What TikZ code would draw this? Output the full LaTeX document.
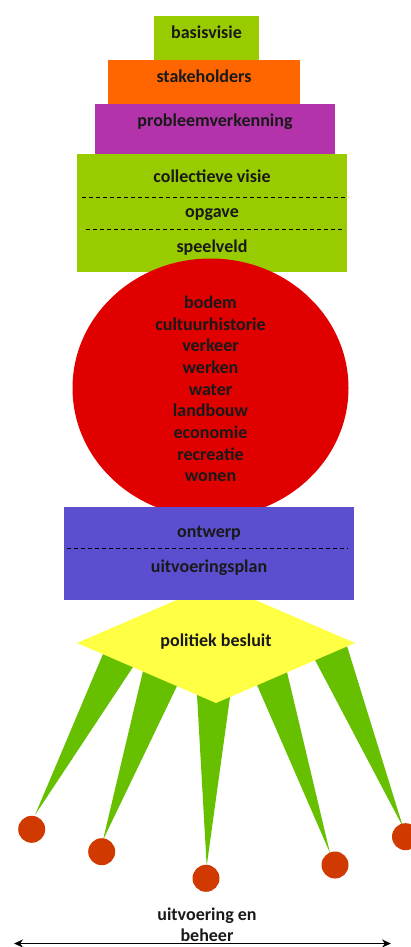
\documentclass[tikz,border=0pt]{standalone}
\usepackage{fontspec}
\setmainfont{Carlito}
\usetikzlibrary{arrows.meta,calc,shapes.geometric}
\definecolor{lgreen}{HTML}{99CC00}
\definecolor{orng}{HTML}{FF6600}
\definecolor{purp}{HTML}{B233AA}
\definecolor{bluev}{HTML}{5B4FCF}
\definecolor{redc}{HTML}{E00000}
\definecolor{yel}{HTML}{FFFF44}
\definecolor{spk}{HTML}{66C000}
\definecolor{dotc}{HTML}{D03A00}
\tikzset{
  lbl/.style={font=\fontsize{18}{21}\selectfont\bfseries, text=black!90, inner sep=0pt, text height=12pt, text depth=0pt},
  boxx/.style={rectangle, inner sep=0pt, draw=none},
  sep/.style={draw=black, line width=0.9pt, dash pattern=on 4pt off 3pt},
  spike/.style={fill=spk, draw=none},
  dot/.style={circle, fill=dotc, draw=none, minimum size=27pt, inner sep=0pt},
}
\begin{document}
\begin{tikzpicture}[x=1pt,y=-1pt]
\useasboundingbox (0,0) rectangle (410,947);
% spikes
\coordinate (p1) at (35,815);  \coordinate (p1a) at (103,654); \coordinate (p1b) at (133,667);
\coordinate (p2) at (103,840); \coordinate (p2a) at (143,671); \coordinate (p2b) at (177,686);
\coordinate (p3) at (206.7,866); \coordinate (p3a) at (197,695); \coordinate (p3b) at (230,697);
\coordinate (p4) at (330,853); \coordinate (p4a) at (257,685); \coordinate (p4b) at (287,672);
\coordinate (p5) at (403,827); \coordinate (p5a) at (315,660); \coordinate (p5b) at (347,646);
\foreach \i in {1,...,5}
  \fill[spike] (p\i) -- ($(p\i)!1.03!(p\i a)$) -- ($(p\i)!1.03!(p\i b)$) -- cycle;
% diamond
\coordinate (dt) at (216,583); \coordinate (dr) at (355,643);
\coordinate (db) at (216,703); \coordinate (dl) at (77,643);
\fill[yel] (dt) -- (dr) -- (db) -- (dl) -- cycle;
\node[lbl] (t9) at (216,640) {politiek besluit};
% top boxes
\node[boxx, fill=lgreen, minimum width=105pt, minimum height=44pt] (b1) at (206.5,38) {};
\node[boxx, fill=orng, minimum width=192pt, minimum height=44pt] (b2) at (204,82) {};
\node[boxx, fill=purp, minimum width=240pt, minimum height=50pt] (b3) at (215,129) {};
\node[boxx, fill=lgreen, minimum width=270pt, minimum height=118pt] (b4) at (212,213) {};
\node[lbl] (t1) at (206.5,33) {basisvisie};
\node[lbl] (t2) at (204,77) {stakeholders};
\node[lbl] (t3) at (215,121) {probleemverkenning};
\node[lbl] (t4) at (212,176) {collectieve visie};
\node[lbl] (t5) at (212,211) {opgave};
\node[lbl] (t6) at (212,246) {speelveld};
\coordinate (d1a) at (82,197); \coordinate (d1b) at (348,197);
\coordinate (d2a) at (86,229); \coordinate (d2b) at (345,229);
\draw[sep] (d1a) -- (d1b);
\draw[sep] (d2a) -- (d2b);
% circle
\node[ellipse, fill=redc, draw=none, minimum width=276pt, minimum height=259pt, inner sep=0pt] (c) at (210.5,388) {};
\foreach \t [count=\i] in {bodem,cultuurhistorie,verkeer,werken,water,landbouw,economie,recreatie,wonen}
  \node[lbl] (w\i) at (210.5,{302.3+21.7*(\i-1)}) {\t};
% blue box
\node[boxx, fill=bluev, minimum width=290pt, minimum height=93pt] (b5) at (209,553.5) {};
\node[lbl] (t7) at (209,531.5) {ontwerp};
\node[lbl] (t8) at (209,566) {uitvoeringsplan};
\coordinate (d3a) at (67,548.5); \coordinate (d3b) at (348,548.5);
\draw[sep] (d3a) -- (d3b);
% dots
\node[dot] (k1) at (31.7,829.3) {};
\node[dot] (k2) at (101.7,851.7) {};
\node[dot] (k3) at (206,878.3) {};
\node[dot] (k4) at (335,865) {};
\node[dot] (k5) at (405.5,836.7) {};
% bottom
\node[lbl, align=center, text height=, text depth=, font=\fontsize{18}{21}\selectfont\bfseries] (t10) at (207,925) {uitvoering en\\beheer};
\coordinate (al) at (14,943.5); \coordinate (ar) at (391,943.5);
\draw[line width=1.6pt, {Stealth[length=9pt,width=8pt]}-{Stealth[length=9pt,width=8pt]}] (al) -- (ar);
\end{tikzpicture}
\end{document}
